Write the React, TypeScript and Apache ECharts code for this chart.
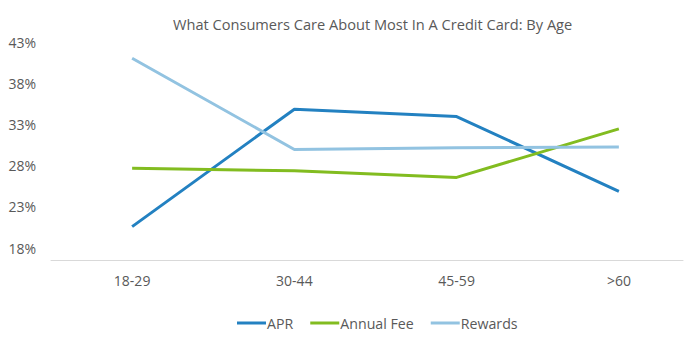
import React, { useEffect, useRef } from "react";
import * as echarts from "echarts";

const categories = ["18-29", "30-44", "45-59", ">60"];
const aprValues = [20.1, 34.4, 33.5, 24.4];
const annualFeeValues = [27.2, 26.9, 26.1, 32.0];
const rewardsValues = [40.6, 29.5, 29.7, 29.8];
const seriesNames = ["APR", "Annual Fee", "Rewards"];
const seriesColors = ["#2381c1", "#82bc20", "#92c3e1"];
const yMin = 17.5;
const yMax = 42.5;
const yStep = 5;

const FONT = "'Open Sans', sans-serif";
const TEXT = "#595959";

export default function App() {
  const ref = useRef<HTMLDivElement>(null);
  useEffect(() => {
    if (!ref.current) return;
    const chart = echarts.init(ref.current, undefined, { renderer: "svg" });
    const values = [aprValues, annualFeeValues, rewardsValues];
    chart.setOption({
      animation: false,
      backgroundColor: "#ffffff",
      title: {
        text: "What Consumers Care About Most In A Credit Card: By Age",
        left: 168,
        top: 11,
        textStyle: { fontFamily: FONT, fontSize: 14.6, fontWeight: "normal", color: TEXT },
      },
      legend: {
        left: 232,
        top: 311,
        icon: "rect",
        itemWidth: 29,
        itemHeight: 3,
        itemGap: 17,
        textStyle: { fontFamily: FONT, fontSize: 14.2, color: TEXT, padding: [0, 0, 0, -4] },
        data: seriesNames,
      },
      grid: [
        { left: 51, right: -5, top: 42.7, bottom: 94 },
        { left: 51, right: 17, top: 42.7, bottom: 82 },
      ],
      xAxis: [
        {
          type: "category",
          gridIndex: 0,
          data: categories,
          boundaryGap: true,
          axisLine: { show: false },
          axisTick: { show: false },
          axisLabel: { margin: 25, fontFamily: FONT, fontSize: 14, color: TEXT },
        },
        {
          type: "value",
          gridIndex: 1,
          min: 0,
          max: 1,
          axisLine: { show: true, lineStyle: { color: "#d9d9d9", width: 1 } },
          axisTick: { show: false },
          axisLabel: { show: false },
          splitLine: { show: false },
        },
      ],
      yAxis: [
        {
          type: "value",
          gridIndex: 0,
          min: yMin,
          max: yMax,
          interval: yStep,
          axisLine: { show: false },
          axisTick: { show: false },
          splitLine: { show: false },
          axisLabel: {
            margin: 15,
            fontFamily: FONT,
            fontSize: 14,
            color: TEXT,
            formatter: (v: number) => Math.round(v) + "%",
          },
        },
        {
          type: "value",
          gridIndex: 1,
          show: false,
          min: 0,
          max: 1,
        },
      ],
      series: seriesNames.map((name, i) => ({
        name,
        type: "line",
        xAxisIndex: 0,
        yAxisIndex: 0,
        data: values[i],
        showSymbol: false,
        symbol: "none",
        color: seriesColors[i],
        lineStyle: { width: 3, color: seriesColors[i] },
        itemStyle: { color: seriesColors[i] },
      })),
    });
    return () => chart.dispose();
  }, []);
  return <div ref={ref} style={{ width: 700, height: 342, position: "absolute", left: 0, top: 0 }} />;
}
